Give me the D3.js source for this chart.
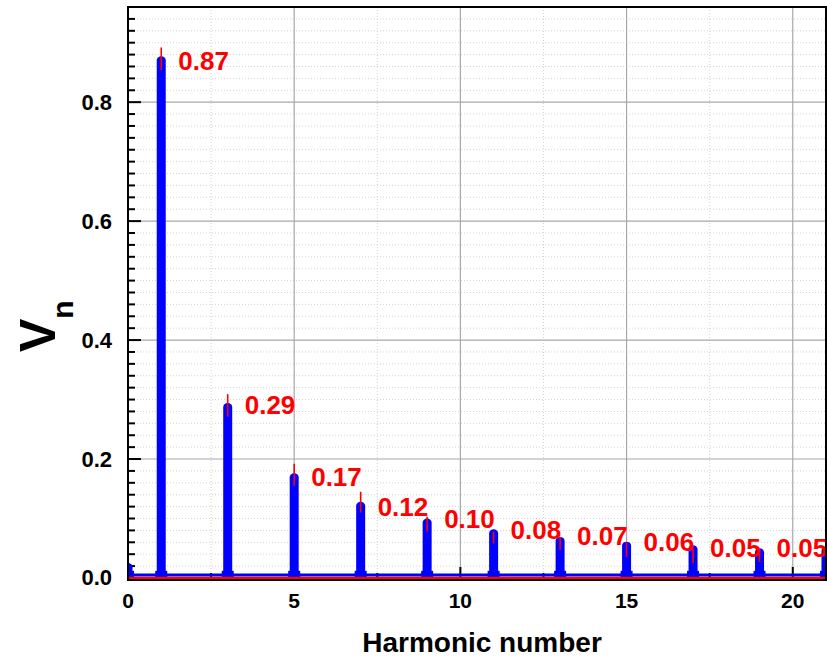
<!DOCTYPE html>
<html><head><meta charset="utf-8">
<script src="https://cdn.jsdelivr.net/npm/d3@7"></script>
<style>
html,body{margin:0;padding:0;background:#fff;}
svg{display:block;font-family:"Liberation Sans",Arial,sans-serif;}
</style></head>
<body>
<svg id="chart" width="827" height="659"></svg>
<script>
// ---- data ----
const harmonics  = [0, 1, 3, 5, 7, 9, 11, 13, 15, 17, 19, 21];
const amplitudes = [0.025, 0.877, 0.294, 0.176, 0.128, 0.100, 0.082, 0.069, 0.061, 0.055, 0.050, 0.052];
const errHigh    = [null, 0.892, 0.309, 0.192, 0.145, 0.103, 0.078, 0.069, 0.060, 0.050, 0.044, 0.050];
const errLow     = [null, 0.854, 0.271, 0.155, 0.110, 0.078, 0.058, 0.047, 0.035, 0.025, 0.027, 0.030];
const peakLabels = [null, "0.87", "0.29", "0.17", "0.12", "0.10", "0.08", "0.07", "0.06", "0.05", "0.05", null];
const labelValues= [null, 0.87, 0.29, 0.17, 0.12, 0.10, 0.08, 0.07, 0.06, 0.05, 0.05, null];
const baselineLevel = 0.005;
const xTicks = [0, 5, 10, 15, 20];
const xMinorTicks = [2.5, 7.5, 12.5, 17.5];
const yTicks = [0.0, 0.2, 0.4, 0.6, 0.8];
const yMinorStep = 0.02;
const xTitle = "Harmonic number";
const yTitleMain = "V", yTitleSub = "n";

// ---- layout ----
const L = 128, R = 826, T = 7, B = 580;
const svg = d3.select("#chart");
const x = d3.scaleLinear().domain([0, 21]).range([L, R]);
const y = d3.scaleLinear().domain([-0.0034, 0.96]).range([B, T]);

svg.append("defs").append("clipPath").attr("id","plotclip")
  .append("rect").attr("x",L).attr("y",T).attr("width",R-L).attr("height",B-T);

// minor grid
const yMinor = d3.range(0, 0.96, yMinorStep).filter(v => !yTicks.some(t => Math.abs(t - v) < 1e-6));
const grid = svg.append("g");
grid.selectAll(".ymg").data(yMinor).join("line")
  .attr("x1", L).attr("x2", R).attr("y1", d => y(d)).attr("y2", d => y(d))
  .attr("stroke", "#d4d4d4").attr("stroke-width", 1).attr("stroke-dasharray", "1,2");
grid.selectAll(".xmg").data(xMinorTicks).join("line")
  .attr("y1", T).attr("y2", B).attr("x1", d => x(d)).attr("x2", d => x(d))
  .attr("stroke", "#d4d4d4").attr("stroke-width", 1).attr("stroke-dasharray", "1,2");
// major grid
grid.selectAll(".yMg").data(yTicks.filter(d => d > 0)).join("line")
  .attr("x1", L).attr("x2", R).attr("y1", d => y(d)).attr("y2", d => y(d))
  .attr("stroke", "#a8a8a8").attr("stroke-width", 1.2);
grid.selectAll(".xMg").data(xTicks.filter(d => d > 0)).join("line")
  .attr("y1", T).attr("y2", B).attr("x1", d => x(d)).attr("x2", d => x(d))
  .attr("stroke", "#a8a8a8").attr("stroke-width", 1.2);

// ticks (inward)
const ticks = svg.append("g").attr("stroke", "#000").attr("stroke-width", 2);
ticks.selectAll(".ym").data(yMinor).join("line")
  .attr("x1", L).attr("x2", L + 7).attr("y1", d => y(d)).attr("y2", d => y(d));
ticks.selectAll(".yM").data(yTicks).join("line")
  .attr("x1", L).attr("x2", L + 13).attr("y1", d => y(d)).attr("y2", d => y(d));
ticks.selectAll(".xm").data(xMinorTicks).join("line")
  .attr("y1", B).attr("y2", B - 7).attr("x1", d => x(d)).attr("x2", d => x(d));
ticks.selectAll(".xM").data(xTicks).join("line")
  .attr("y1", B).attr("y2", B - 13).attr("x1", d => x(d)).attr("x2", d => x(d));

// spectrum
const plot = svg.append("g").attr("clip-path", "url(#plotclip)");
plot.append("line")
  .attr("x1", x(0)).attr("x2", x(21)).attr("y1", y(baselineLevel)).attr("y2", y(baselineLevel))
  .attr("stroke", "#0000ff").attr("stroke-width", 3);
const peakW = 9;
plot.selectAll(".peak").data(harmonics.map((h, i) => ({h, a: amplitudes[i]}))).join("rect")
  .attr("x", d => x(d.h) - peakW / 2).attr("width", peakW)
  .attr("y", d => y(d.a)).attr("height", d => y(0) - y(d.a) + 1)
  .attr("rx", peakW / 2).attr("ry", 4)
  .attr("fill", "#0000ff");
// peak bases flare
plot.selectAll(".base").data(harmonics.map((h, i) => ({h, a: amplitudes[i]}))).join("rect")
  .attr("x", d => x(d.h) - peakW / 2 - 1.5).attr("width", peakW + 3)
  .attr("y", y(0.012)).attr("height", y(0) - y(0.012))
  .attr("fill", "#0000ff");
// zero line (red)
plot.append("line")
  .attr("x1", x(0)).attr("x2", x(21)).attr("y1", y(0)).attr("y2", y(0))
  .attr("stroke", "#ff0000").attr("stroke-width", 2.5);
// red error lines
const errData = harmonics.map((h, i) => ({h, lo: errLow[i], hi: errHigh[i]})).filter(d => d.lo != null);
plot.selectAll(".err").data(errData).join("line")
  .attr("x1", d => x(d.h)).attr("x2", d => x(d.h))
  .attr("y1", d => y(d.lo)).attr("y2", d => y(d.hi))
  .attr("stroke", "#ff0000").attr("stroke-width", 1.6);

// peak labels
const labData = harmonics.map((h, i) => ({h, t: peakLabels[i], v: labelValues[i]})).filter(d => d.t);
svg.selectAll(".plab").data(labData).join("text")
  .attr("x", d => x(d.h) + 17).attr("y", d => y(d.v))
  .attr("dominant-baseline", "central")
  .attr("fill", "#ff0000").attr("font-weight", "bold").attr("font-size", 26)
  .text(d => d.t);

// frame
svg.append("rect").attr("x", L).attr("y", T).attr("width", R - L).attr("height", B - T)
  .attr("fill", "none").attr("stroke", "#000").attr("stroke-width", 2);

// tick labels
svg.selectAll(".ytl").data(yTicks).join("text")
  .attr("x", L - 16).attr("y", d => y(d)).attr("dominant-baseline", "central")
  .attr("text-anchor", "end").attr("font-weight", "bold").attr("font-size", 22)
  .text(d => d3.format(".1f")(d));
svg.selectAll(".xtl").data(xTicks).join("text")
  .attr("x", d => x(d)).attr("y", 608).attr("text-anchor", "middle")
  .attr("font-weight", "bold").attr("font-size", 21)
  .text(d => d);

// axis titles
svg.append("text").attr("x", 482).attr("y", 652).attr("text-anchor", "middle")
  .attr("font-weight", "bold").attr("font-size", 28).text(xTitle);
const yt = svg.append("text").attr("transform", "translate(55,352) rotate(-90)")
  .attr("font-weight", "bold");
yt.append("tspan").attr("font-size", 50).text(yTitleMain);
yt.append("tspan").attr("font-size", 30).attr("dy", 18).text(yTitleSub);
</script>
</body></html>
